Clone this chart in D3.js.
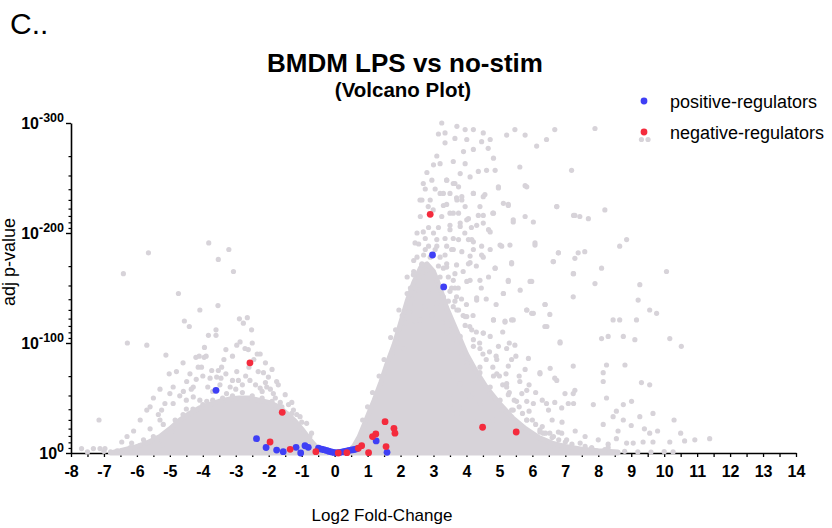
<!DOCTYPE html>
<html><head><meta charset="utf-8">
<script src="https://cdn.jsdelivr.net/npm/d3@7"></script>
<style>body{margin:0;background:#fff}text{font-family:"Liberation Sans",Arial,Helvetica,sans-serif}</style>
</head><body><svg id="c" width="832" height="528"></svg>
<script>
// ---- data: [log2 fold-change, -log10(adj p)] ----
const xTickLabels = [-8,-7,-6,-5,-4,-3,-2,-1,0,1,2,3,4,5,6,7,8,9,10,11,12,13,14];
const yTickValues = [0,100,200,300];
const yTickExps = ["0","-100","-200","-300"];

// dense envelopes of the grey cloud (upper edge of the solid mass)
const leftDense = [[-6.8,0],[-6.5,2],[-6.1,5],[-5.7,9],[-5.3,15],[-5.0,22],[-4.7,30],[-4.4,36],[-4.1,41],[-3.8,44],[-3.5,47],[-3.2,49],[-2.9,50],[-2.6,50],[-2.3,48],[-2.0,46],[-1.7,42],[-1.45,36],[-1.2,29],[-1.0,22],[-0.8,14],[-0.6,7],[-0.45,3],[-0.3,1],[-0.2,0]];
const rightDense = [[0.3,0],[0.45,2],[0.6,7],[0.75,15],[0.9,26],[1.05,37],[1.2,48],[1.4,64],[1.6,82],[1.8,98],[2.0,118],[2.2,138],[2.4,155],[2.6,168],[2.8,172],[3.0,165],[3.2,150],[3.4,132],[3.6,118],[3.8,104],[4.0,90],[4.3,74],[4.6,60],[5.0,45],[5.4,32],[5.8,22],[6.2,14],[6.6,9],[7.0,6],[7.5,3.5],[8.0,2],[8.6,1],[8.6,0]];

// all other genes (grey)
const otherGenes = [
[-7.68,4],[-7.32,4],[-7.12,4],[-6.97,4],[-7.5,1],[-7.0,1.5],[-6.8,1],[-6.6,2],[-7.15,30],[-6.46,10],[-6.41,163],[-5.65,182],[-6.29,100],[-5.7,98],
[-5.7,39],[-5.6,22],[-5.35,35],[-5.3,30],[-5.9,7],[-6.16,9],[-5.4,11],[-5.7,9],[-5.25,7],[-5.12,89],[-5.02,72],[-4.74,145],[-4.56,120],[-4.41,115],
[-4.09,130],[-3.82,191],[-3.53,176],[-3.21,185],[-3.07,165],[-3.54,134],[-3.83,107],[-3.6,112],[-3.6,107],[-2.89,122],[-2.65,123],[-2.77,118],
[-2.52,112],[-2.97,98],[-2.87,101],[-2.72,95],[-2.62,94],[-2.35,90],[-2.26,90],[-4.21,87],[-4.11,88],[-3.96,87],[-3.9,88],[-4.14,78],[-4.04,78],
[-3.73,75],[-3.53,75],[-3.43,78],[-3.36,85],[-3.58,69],[-3.78,68],[-4.49,65],[-4.29,60],[-4.39,72],[-4.59,56],[-5.0,54],[-4.9,45],[-5.15,45],
[-5.25,39],[-4.84,30],[-4.95,19],[-4.29,51],[-4.09,48],[-3.88,47],[-3.48,62],[-3.28,54],[-3.17,60],[-2.97,74],[-2.92,66],[-2.57,66],[-2.32,74],
[-2.16,73],[-2.01,69],[-1.76,65],[-1.71,62],[-2.06,60],[-1.5,53],[-2.26,59],[-1.86,54],[-1.25,39],[-1.05,33],[-0.85,27],[-0.95,18],[-0.75,15],
[-4.6,35],[-4.3,40],[-4.0,44],[-3.7,48],[-3.4,50],[-3.1,52],[-2.8,55],[-2.5,52],[-2.2,50],[-1.9,47],[-1.6,42],[-1.3,36],[-5.5,15],[-5.8,12],[-6.2,5],[-4.8,28],
[-4.9,60],[-4.7,52],[-4.5,48],[-4.35,58],[-4.2,67],[-4.0,70],[-3.85,60],[-3.7,56],[-3.45,68],[-3.3,72],[-3.1,66],[-3.0,58],[-2.8,62],[-2.7,70],[-2.6,78],
[-2.45,85],[-2.4,62],[-2.2,56],[-2.1,64],[-1.95,58],[-1.8,50],[-1.65,46],[-1.4,44],[-1.15,35],[-3.95,96],[-3.3,94],[-3.1,88],[-2.5,100],[-2.1,82],[-1.9,76],
[-4.6,82],[-4.8,74],[-5.3,58],[-5.5,50],[-5.6,42],[-5.9,30],[-6.1,20],[-6.3,15],[-5.2,26],[-4.5,40],[-1.3,46],[-1.0,28],[-0.7,18],
[2.69,245],[3.4,248],[3.5,236],[3.65,245],[3.7,232],[3.86,230],[2.59,230],[3.2,236],[4.21,236],[4.56,235],[4.97,242],[5.27,225],[5.78,243],[6.74,224],
[7.25,216],[2.84,224],[2.99,221],[3.25,215],[3.5,218],[3.76,218],[4.01,212],[4.36,216],[4.51,209],[4.8,218],[5.42,210],[6.03,210],[2.69,201],[3.1,194],
[3.5,203],[3.81,209],[4.06,194],[4.21,192],[4.67,203],[5.02,189],[6.08,191],[2.44,191],[3.1,188],[3.55,185],[3.86,183],[4.21,185],[4.51,178],[4.87,168],
[5.37,172],[6.64,174],[6.79,182],[2.64,171],[2.79,166],[3.2,178],[3.4,172],[3.7,171],[4.06,172],[2.39,162],[2.69,160],[3.1,157],[3.6,157],[4.11,157],
[4.67,160],[5.27,157],[5.98,156],[7.25,163],[2.54,148],[2.84,147],[3.5,147],[3.7,142],[4.31,141],[5.12,145],[5.63,148],[2.29,136],[2.74,133],[3.1,136],
[3.6,133],[3.76,130],[4.01,124],[5.83,130],[5.98,127],[6.39,135],[2.29,127],[2.59,121],[2.95,125],[3.25,118],[3.5,112],[3.96,116],[4.82,121],[5.17,119],
[5.42,121],[6.44,115],[6.84,100],[3.7,100],[4.21,103],[4.51,109],[4.97,97],[5.37,85],[5.78,76],[6.23,72],[6.54,77],[6.74,66],[6.99,54],[7.25,45],
[4.01,82],[4.41,78],[4.92,72],[5.22,60],[5.68,54],[6.03,45],[6.49,39],[4.72,60],[4.21,54],[5.02,48],[5.42,39],[5.83,30],[6.23,21],[6.64,15],[7.04,12],[7.45,9],
[1.6,80],[1.75,90],[1.9,100],[2.0,108],[2.15,118],[2.25,128],[2.35,140],[2.45,150],[2.55,160],[2.65,172],[2.75,185],[2.5,200],[2.6,215],[2.85,205],
[2.2,145],[2.4,175],[2.05,125],[1.85,112],[2.8,255],[3.0,262],[3.1,270],[2.95,248],[3.15,290],[3.25,300],
[2.3,150],[2.4,165],[2.5,178],[2.55,190],[2.7,180],[2.75,195],[2.85,188],[2.9,178],[3.0,200],[3.05,185],[3.15,170],[3.2,160],[3.3,168],[3.35,180],
[3.45,160],[3.55,150],[3.65,138],[3.75,150],[3.85,140],[3.9,125],[4.0,135],[4.1,115],[4.2,125],[4.3,110],[4.4,100],[4.5,90],[4.6,85],[4.7,92],[4.8,78],
[4.9,88],[5.0,70],[5.1,62],[5.2,72],[5.3,55],[5.45,48],[5.6,42],[5.7,36],[5.9,38],[6.0,30],[6.1,26],[6.3,24],[6.4,18],[6.6,14],[6.8,12],[7.0,10],[7.2,8],
[7.6,6],[7.8,5],[8.2,3],[2.45,120],[2.2,160],[2.65,230],[2.75,240],[2.9,230],[3.05,240],[3.3,225],[3.15,205],[3.35,195],[3.6,195],[3.95,200],[4.15,205],
[3.9,165],[4.3,170],[4.45,150],[4.6,140],[4.9,135],[5.1,110],[5.3,100],[5.5,88],[5.6,70],[5.9,62],[6.1,55],[6.3,48],[6.6,30],[6.9,28],[7.3,20],[7.6,15],
[8.0,12],[8.3,8],[8.6,20],[9.0,25],[9.4,22],[9.8,20],[10.3,30],[10.5,18],[2.1,95],[1.95,130],[1.7,105],[1.5,85],[1.35,70],[1.15,55],[1.0,42],[0.85,30],
[3.35,291],[3.71,297],[3.96,294],[4.21,294],[4.51,291],[3.65,286],[4.01,285],[4.46,283],[4.72,285],[5.22,289],[5.47,294],[5.78,289],[6.68,294],[7.9,295],
[6.43,285],[6.13,279],[3.35,282],[3.91,274],[4.21,276],[4.66,277],[4.82,268],[3.2,263],[3.6,265],[3.96,263],[4.36,256],[4.61,257],[4.87,257],[5.62,260],
[4.11,251],[3.81,254],[7.19,257],[3.4,248],[3.6,245],[3.76,242],[4.21,236],[4.51,233],[4.97,241],[5.83,242],[3.3,236],[3.71,230],[3.86,233],[3.4,226],
[3.96,224],[4.41,224],[5.12,227],[5.27,226],[6.74,224],[8.2,221],[3.6,218],[4.06,213],[4.51,216],[4.82,218],[5.42,212],[5.78,215],[7.29,216],[7.44,215],
[7.7,213],[3.5,207],[3.81,206],[4.31,207],[4.72,201],[3.76,194],[4.16,194],[4.46,188],[5.07,188],[5.32,189],[6.08,189],[8.65,188],[8.86,194],[3.4,188],
[3.6,185],[4.11,179],[4.46,180],[4.72,185],[6.79,182],[7.39,182],[7.59,183],[7.29,177],[6.63,174],[3.4,169],[3.65,163],[4.11,173],[4.87,168],[5.37,173],
[7.24,163],[8.1,168],[10.07,165],[3.65,150],[4.01,156],[4.41,157],[5.27,156],[5.93,156],[7.9,154],[9.26,153],[3.3,142],[3.45,138],[4.31,139],[5.12,145],
[7.24,142],[9.21,139],[3.4,130],[3.71,130],[3.96,124],[4.16,112],[4.51,109],[4.82,121],[5.17,120],[5.37,121],[5.83,130],[6.03,127],[6.38,135],[6.53,126],
[9.56,130],[9.77,127],[8.45,121],[8.65,121],[9.16,121],[6.38,115],[6.84,101],[8.1,104],[8.3,106],[8.76,106],[9.11,103],[10.17,104],[10.52,97],[3.4,109],
[3.81,106],[4.21,97],[3.4,94],[3.86,88],[4.41,95],[4.72,106],[5.22,95],[5.47,98],[4.92,85],[5.27,79],[5.88,86],[7.24,79],[8.25,80],[8.81,80],[4.41,73],
[4.82,70],[5.22,63],[5.62,65],[6.23,73],[6.68,68],[3.6,70],[4.01,79],[3.81,63],[4.21,63],[8.15,73],[8.15,65],[9.31,64],[9.56,62],[5.83,57],[7.29,57],
[7.24,54],[4.72,54],[5.27,53],[3.5,53],[4.11,51],[4.41,45],[5.52,47],[5.83,47],[6.43,45],[6.68,46],[7.09,45],[6.89,41],[7.85,44],[8.25,50],[8.76,44],
[9.01,47],[8.55,38],[8.45,33],[8.76,30],[9.26,33],[9.66,36],[5.07,39],[5.37,39],[4.82,30],[4.61,26],[4.21,30],[3.71,36],[3.5,44],[3.91,41],[5.83,30],
[6.23,19],[6.33,18],[6.53,18],[6.79,19],[6.89,18],[8.15,26],[9.56,18],[8.55,13],[8.86,9],[9.06,9],[9.36,10],[9.66,10],[10.17,10],[10.62,11],[10.93,12],
[11.38,13],[10.27,1],[9.31,285],[9.51,285],[6.55,3],[6.75,3],[7.8,4],[8.3,5],[8.8,1.5],[9.2,1],[9.6,0.8],[10.0,1.2]
];
const positiveRegulators = [[2.97,180],[3.31,151],[-3.6,57],[-2.37,13],[-2.08,5],[-1.76,2.7],[-1.56,1.2],[-1.17,5.2],[-1.03,0],[-0.9,6.6],[-0.8,5.2],[-0.49,4.3],
[1.26,11],[1.59,0.6],[-0.4,3.5],[-0.33,3],[-0.25,2.3],[-0.18,1.6],[-0.1,1],[-0.03,0.5],[0.04,0.2],[0.1,0.3],[0.17,0.6],[0.24,1],[0.31,1.4],[0.38,1.9],
[0.45,2.4],[0.52,2.8],[0.6,3.2],[0.67,3.8]];
const negativeRegulators = [[2.9,217],[-2.57,82],[-1.59,37],[-1.96,10],[-1.35,3.3],[-0.57,1.2],[1.53,28.5],[1.8,22.4],[1.83,18],[1.25,17.3],[1.15,14.9],
[1.56,5.8],[1.03,0.3],[0.82,6.7],[0.72,4.3],[4.49,23.4],[5.51,19.1],[0.11,0],[0.37,0.3]];

// ---- drawing ----
const GREY = "#d7d3d9", BLUE = "#3f3ff5", RED = "#f42b3d";
const svg = d3.select("#c");
const x = d3.scaleLinear().domain([-8,14]).range([71,796]);
const y = d3.scaleLinear().domain([0,300]).range([453,123]);

svg.append("text").attr("x",10).attr("y",34).attr("font-size",30).text("C..");
svg.append("text").attr("x",405).attr("y",72).attr("text-anchor","middle").attr("font-size",26).attr("font-weight","bold").text("BMDM LPS vs no-stim");
svg.append("text").attr("x",403).attr("y",97).attr("text-anchor","middle").attr("font-size",20.5).attr("font-weight","bold").text("(Volcano Plot)");

// axes
const xa = svg.append("g").attr("transform",`translate(0,${y(0)})`)
  .call(d3.axisBottom(x).tickValues(d3.range(-8,14.001,0.5)).tickSize(4).tickSizeOuter(0).tickPadding(9)
    .tickFormat(d => Number.isInteger(d) && xTickLabels.includes(d) ? String(d) : ""));
xa.selectAll("text").attr("font-size",16).attr("font-weight","bold").attr("fill","#000").style("font-family",'"Liberation Sans",Arial,sans-serif');
xa.select(".domain").attr("stroke-width",1.6);
xa.selectAll(".tick line").attr("stroke-width",1.3);

const minor = [];
yTickValues.slice(1).forEach(U => { for (let k=2;k<=9;k++) minor.push(U - 100*Math.log10(k)); });
const ym = svg.append("g").attr("transform",`translate(${x(-8)},0)`)
  .call(d3.axisLeft(y).tickValues(minor).tickSize(2.5).tickFormat(""));
ym.select(".domain").remove();
ym.selectAll(".tick line").attr("stroke-width",1.2);
const ya = svg.append("g").attr("transform",`translate(${x(-8)},0)`)
  .call(d3.axisLeft(y).tickValues(yTickValues).tickSize(5).tickSizeOuter(0).tickFormat(""));
ya.select(".domain").attr("stroke-width",1.6);
ya.selectAll(".tick line").attr("stroke-width",1.4);
yTickValues.forEach((v,i) => {
  const t = svg.append("text").attr("x",64).attr("y",y(v)+6).attr("text-anchor","end").attr("font-weight","bold");
  t.append("tspan").attr("font-size",16).text("10");
  t.append("tspan").attr("font-size",12.5).attr("dy",-7).text(yTickExps[i]);
});

svg.append("text").attr("transform","translate(14.5,262) rotate(-90)").attr("text-anchor","middle").attr("font-size",18).text("adj p-value");
svg.append("text").attr("x",382).attr("y",521).attr("text-anchor","middle").attr("font-size",17).text("Log2 Fold-Change");

// grey cloud
const line = d3.line().x(d => x(d[0])).y(d => y(d[1]));
[leftDense, rightDense].forEach(a => svg.append("path").attr("d", line(a)+"Z")
  .attr("fill",GREY).attr("stroke",GREY).attr("stroke-width",5).attr("stroke-linejoin","round"));
svg.append("g").selectAll("circle").data(otherGenes).join("circle")
  .attr("cx",d=>x(d[0])).attr("cy",d=>y(d[1])).attr("r",2.6).attr("fill",GREY);
svg.append("g").selectAll("circle").data(positiveRegulators).join("circle")
  .attr("cx",d=>x(d[0])).attr("cy",d=>y(d[1])).attr("r",3.4).attr("fill",BLUE);
svg.append("g").selectAll("circle").data(negativeRegulators).join("circle")
  .attr("cx",d=>x(d[0])).attr("cy",d=>y(d[1])).attr("r",3.4).attr("fill",RED);

// legend
const legend = [["positive-regulators",BLUE],["negative-regulators",RED]];
legend.forEach(([label,col],i) => {
  svg.append("circle").attr("cx",644).attr("cy",101+i*31).attr("r",3.4).attr("fill",col);
  svg.append("text").attr("x",670).attr("y",107.5+i*31).attr("font-size",18).text(label);
});
</script></body></html>
